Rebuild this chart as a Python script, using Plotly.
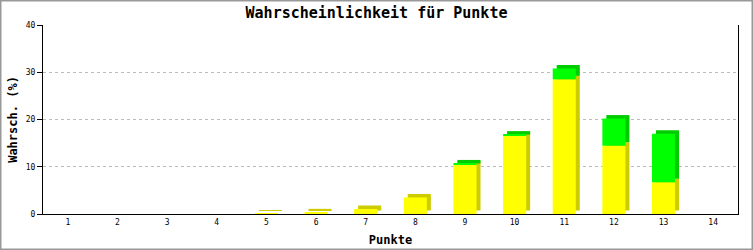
import numpy as np
import plotly.graph_objects as go

categories = [str(i) for i in range(1, 15)]
yellow_vals = [0, 0, 0, 0, 0.1, 0.35, 1.06, 3.5, 10.5, 16.6, 28.5, 14.45, 6.7, 0]
green_vals = [0, 0, 0, 0, 0, 0, 0, 0, 0.2, 0.2, 2.3, 5.75, 10.3, 0]
y_ticks = [0, 10, 20, 30, 40]

W, H = 753, 250
ML, MR, MT, MB = 43, 15, 25, 36
PW, PH = W - ML - MR, H - MT - MB

x = np.arange(1, len(categories) + 1)
yel = np.array(yellow_vals)
grn = np.array(green_vals)
tot = yel + grn

# 3D depth in data units
DX = 4 / (PW / 14)
DY = 3.5 / (PH / 40)
BW = 0.465
OFF = -BW / 2

gs_base = yel + np.minimum(grn, DY)
gs_top = np.where(grn > 0, tot + DY, gs_base)
gs_h = gs_top - gs_base

ys_h = np.where(yel > 0, yel, 0)

fig = go.Figure()
common = dict(width=BW, marker_line_width=0, hoverinfo="skip", showlegend=False)
fig.add_bar(x=x, y=ys_h, base=np.full_like(yel, DY), offset=OFF + DX,
            marker_color="#cccc00", **common)
fig.add_bar(x=x, y=gs_h, base=gs_base, offset=OFF + DX,
            marker_color="#00cc00", **common)
fig.add_bar(x=x, y=yel, base=np.zeros_like(yel), offset=OFF,
            marker_color="#ffff00", **common)
fig.add_bar(x=x, y=grn, base=yel, offset=OFF,
            marker_color="#00ff00", **common)

mono = "DejaVu Sans Mono"
fig.update_layout(
    width=W, height=H,
    margin=dict(l=ML, r=MR, t=MT, b=MB, pad=0, autoexpand=False),
    barmode="overlay",
    paper_bgcolor="white", plot_bgcolor="white",
    title=dict(text="<b>Wahrscheinlichkeit für Punkte</b>", x=0.5, xanchor="center",
               y=1 - 13 / H, yanchor="middle", yref="container",
               font=dict(family=mono, size=15, color="black")),
    xaxis=dict(range=[0.5, 14.5], tickvals=list(x), ticktext=categories,
               automargin=False,
               showgrid=False, zeroline=False, showline=True, linecolor="black",
               linewidth=1, ticks="", tickfont=dict(family=mono, size=8, color="black"),
               title=dict(text="<b>Punkte</b>", standoff=10,
                          font=dict(family=mono, size=12, color="black"))),
    yaxis=dict(range=[0, 40], tickvals=y_ticks, showgrid=True, gridcolor="#bbbbbb",
               automargin=False,
               griddash="3px,3px", gridwidth=1, zeroline=False, showline=True,
               mirror=True, linecolor="black", linewidth=1, ticks="outside",
               ticklen=5, tickcolor="black",
               tickfont=dict(family=mono, size=8, color="black"),
               title=dict(text="<b>Wahrsch. (%)</b>", standoff=5,
                          font=dict(family=mono, size=12, color="black"))),
)

# outer image border
fig.add_shape(type="rect", xref="paper", yref="paper",
              x0=(0.5 - ML) / PW, x1=(W - 0.5 - ML) / PW,
              y0=-(MB - 0.5) / PH, y1=(H - MB - 0.5) / PH,
              line=dict(color="#999999", width=2), layer="above")

fig.write_html("out.html")
